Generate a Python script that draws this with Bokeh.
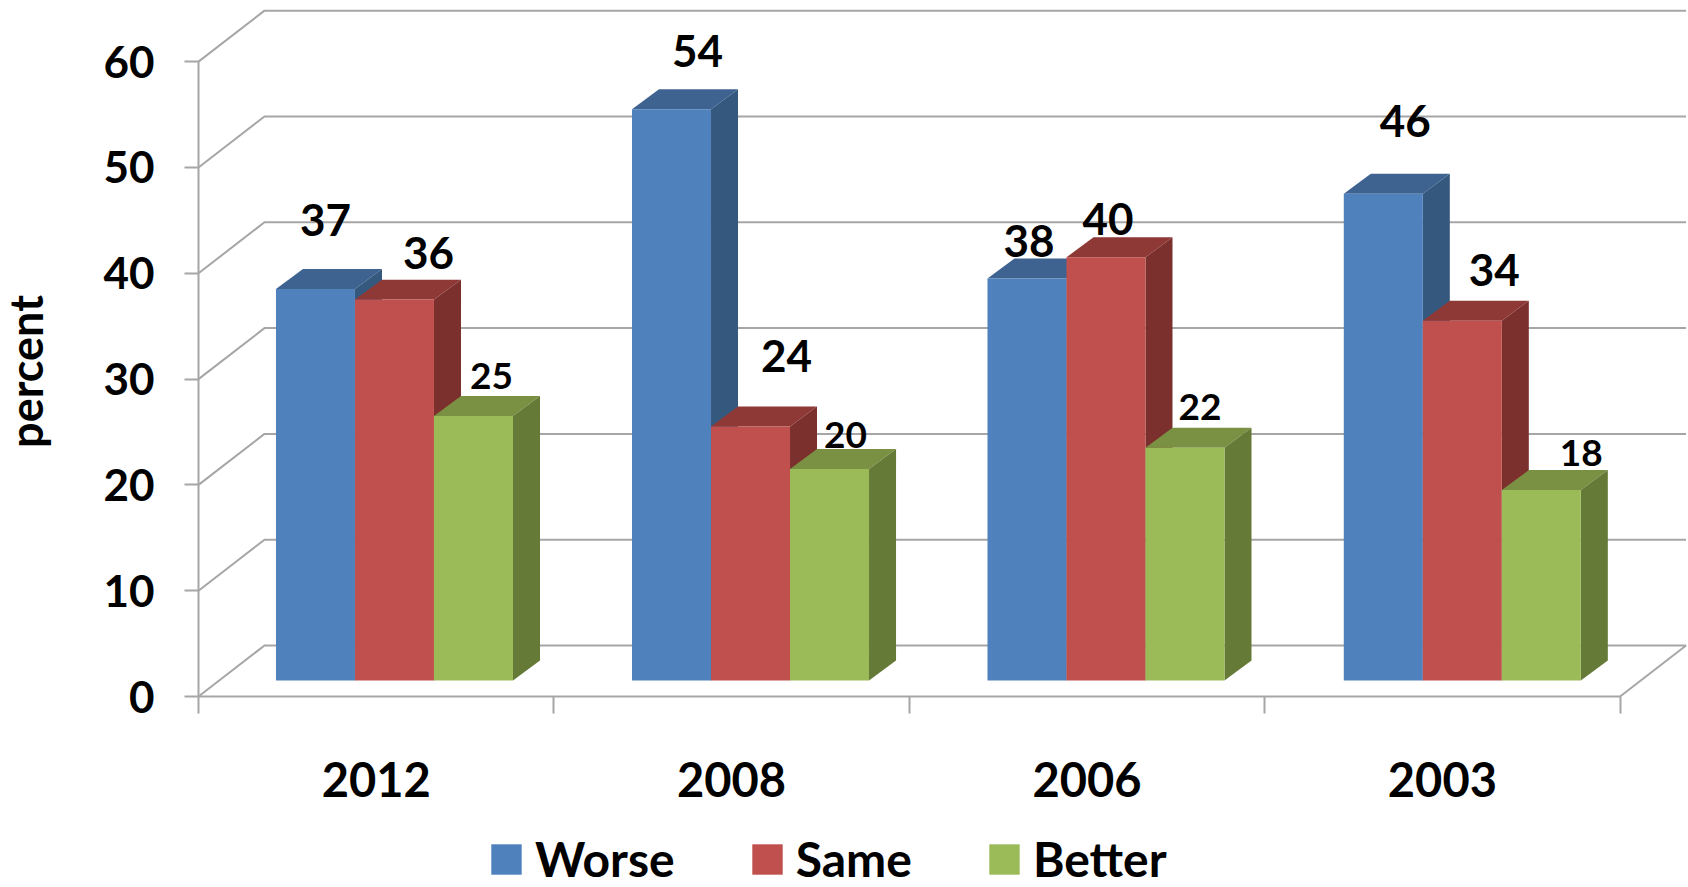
from math import pi
from bokeh.plotting import figure
from bokeh.models import (ColumnDataSource, FixedTicker, Label, Legend, LegendItem, LinearAxis, Range1d)
from bokeh.core.properties import value
from bokeh.embed import file_html
from bokeh.resources import INLINE

# ---- chart data ----
years = ["2012", "2008", "2006", "2003"]
worse = [37, 54, 38, 46]
same = [36, 24, 40, 34]
better = [25, 20, 22, 18]
y_ticks = [0, 10, 20, 30, 40, 50, 60]

# ---- styles / projection ----
FONT = "Lato"
GREY = "#A6A6A6"
styles = [
    ("Worse", worse, "#4F81BD", "#3E6391", "#35587F"),
    ("Same", same, "#C0504D", "#8F3937", "#7B302E"),
    ("Better", better, "#9BBB59", "#7A9143", "#667A38"),
]
label_sizes = ["44px", "44px", "37px"]
label_offsets = [
    [(10, -69), (26, -58), (2, -37), (22, -73)],
    [(34, -47), (36, -71), (2, -38), (32, -51)],
    [(18, -40), (16, -34), (15, -41), (40, -37)],
]
BAR_STARTS, BAR_W = [0.218, 0.2198, 0.22, 0.2226], 0.2223   # category units
LIFT = 1.51                           # value units the bars float above the front floor edge
BAR_DX, BAR_DY = 0.076, 1.89          # bar depth
WALL_DX, WALL_DY = 0.1857, 4.82       # chart depth
X_START, X_END = -0.5571, 4.1925
Y_START, Y_END = -18.05, 65.78

p = figure(width=1688, height=887, output_backend="svg", toolbar_location=None,
           x_range=Range1d(X_START, X_END), y_range=Range1d(Y_START, Y_END),
           x_axis_type=None, y_axis_type=None,
           min_border_left=0, min_border_right=0, min_border_top=0, min_border_bottom=0,
           outline_line_color=None, background_fill_color="white", border_fill_color="white")
p.grid.visible = False

# walls
xs_wall, ys_wall = [], []
for v in y_ticks:
    xs_wall.append([0, WALL_DX, 4 + WALL_DX])
    ys_wall.append([v, v + WALL_DY, v + WALL_DY])
xs_wall.append([4, 4 + WALL_DX])
ys_wall.append([0, WALL_DY])
p.multi_line(xs_wall, ys_wall, line_color=GREY, line_width=2)

# bars
items = []
for s, (name, vals, front, top, side) in enumerate(styles):
    lefts = [i + BAR_STARTS[i] + s * BAR_W for i in range(len(vals))]
    rights = [l + BAR_W for l in lefts]
    tops = [v + LIFT for v in vals]
    p.patches(
        [[l, r, r + BAR_DX, l + BAR_DX] for l, r in zip(lefts, rights)],
        [[t, t, t + BAR_DY, t + BAR_DY] for t in tops],
        fill_color=top, line_color=None)
    p.patches(
        [[r, r + BAR_DX, r + BAR_DX, r] for r in rights],
        [[LIFT, LIFT + BAR_DY, t + BAR_DY, t] for t in tops],
        fill_color=side, line_color=None)
    r_front = p.quad(left=lefts, right=rights, bottom=[LIFT] * len(vals), top=tops,
                     fill_color=front, line_color=None)
    items.append(LegendItem(label=name, renderers=[r_front]))

# value labels
for s, (name, vals, *_c) in enumerate(styles):
    src = ColumnDataSource(dict(
        x=[i + BAR_STARTS[i] + (s + 0.5) * BAR_W for i in range(len(vals))],
        y=[v + LIFT for v in vals],
        t=[str(v) for v in vals],
        dx=[o[0] for o in label_offsets[s]],
        dy=[o[1] for o in label_offsets[s]],
    ))
    p.text("x", "y", text="t", source=src, x_offset="dx", y_offset="dy",
           text_font=value(FONT), text_font_style="bold", text_font_size=label_sizes[s],
           text_color="black", text_align="center", text_baseline="middle")

# axes
yax = LinearAxis(ticker=FixedTicker(ticks=y_ticks), bounds=(0, 60), fixed_location=0,
                 major_label_text_font=FONT, major_label_text_font_style="bold",
                 major_label_text_font_size="44px", major_label_text_color="black",
                 major_label_standoff=30, major_tick_out=14, major_tick_in=0,
                 minor_tick_out=0, minor_tick_in=0,
                 axis_line_color=GREY, axis_line_width=2,
                 major_tick_line_color=GREY, major_tick_line_width=2)
p.add_layout(yax, "left")

centers = [i + 0.5 for i in range(len(years))]
xax = LinearAxis(ticker=FixedTicker(ticks=centers, minor_ticks=list(range(len(years) + 1))),
                 bounds=(0, 4), fixed_location=0,
                 major_label_overrides={c: y for c, y in zip(centers, years)},
                 major_label_text_font=FONT, major_label_text_font_style="bold",
                 major_label_text_font_size="47px", major_label_text_color="black",
                 major_label_standoff=48, major_tick_out=0, major_tick_in=0,
                 minor_tick_out=17, minor_tick_in=0,
                 minor_tick_line_color=GREY, minor_tick_line_width=2,
                 axis_line_color=GREY, axis_line_width=2)
p.add_layout(xax, "below")

p.add_layout(Label(text="percent", x=25, y=516, x_units="screen", y_units="screen",
                   angle=pi / 2, text_font=FONT, text_font_style="bold",
                   text_font_size="45px", text_color="black",
                   text_align="center", text_baseline="middle"))

legend = Legend(items=items, orientation="horizontal", location=(487, 0),
                glyph_width=38, glyph_height=38, label_standoff=10, spacing=73,
                padding=0, margin=0, border_line_color=None, background_fill_alpha=0,
                label_text_font=FONT, label_text_font_style="bold",
                label_text_font_size="48px", label_text_color="black")
p.add_layout(legend, "center")

open("out.html", "w").write(file_html(p, INLINE))
